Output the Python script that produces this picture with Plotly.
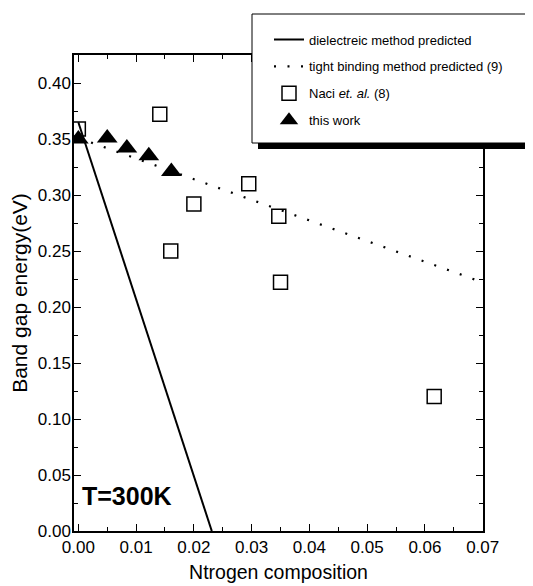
import plotly.graph_objects as go

# ---- data ----
diel_x = [0.0, 0.0231]
diel_y = [0.365, 0.0]

tb_x = [0.0, 0.07]
tb_y = [0.351, 0.222]

naci_x = [0.0, 0.0141, 0.016, 0.020, 0.0295, 0.0347, 0.035, 0.0616]
naci_y = [0.359, 0.372, 0.250, 0.292, 0.310, 0.281, 0.222, 0.120]

work_x = [0.0, 0.005, 0.0084, 0.0122, 0.0161]
work_y = [0.350, 0.351, 0.342, 0.335, 0.321]

x_ticks = [0.00, 0.01, 0.02, 0.03, 0.04, 0.05, 0.06, 0.07]
y_ticks = [0.00, 0.05, 0.10, 0.15, 0.20, 0.25, 0.30, 0.35, 0.40]

FONT = "Liberation Sans, Arial, sans-serif"

W, H = 533, 586
# page body adds an 8px offset, so margins are shifted to compensate
ML, MR, MT, MB = 66, 58, 47, 63
PW, PH = W - ML - MR, H - MT - MB
L0, B0 = 74, 531  # on-screen position of plot-area left / bottom


def px(p):
    return (p - L0) / PW


def py(p):
    return (B0 - p) / PH


fig = go.Figure()

fig.add_trace(go.Scatter(
    x=diel_x, y=diel_y, mode="lines", name="dielectreic method predicted",
    line=dict(color="black", width=2), legendgroup="a"))
fig.add_trace(go.Scatter(
    x=tb_x, y=tb_y, mode="lines", name="tight binding method predicted (9)",
    line=dict(color="black", width=2.2, dash="2px,11.5px"), legendgroup="b"))
fig.add_trace(go.Scatter(
    x=naci_x, y=naci_y, mode="markers", name="Naci <i>et. al.</i> (8)",
    marker=dict(symbol="square-open", size=14, color="black",
                line=dict(color="black", width=1.5)), legendgroup="c"))
fig.add_trace(go.Scatter(
    x=work_x, y=work_y, mode="markers", name="this work",
    marker=dict(symbol="triangle-up", size=18, color="black"), legendgroup="d"))

axis_common = dict(
    showgrid=False, zeroline=False, showline=True, linecolor="black",
    linewidth=1.5, mirror="ticks", ticks="inside", ticklen=7, tickwidth=1.2,
    tickcolor="black", tickformat=".2f", automargin=False,
    tickfont=dict(family=FONT, size=17, color="black"),
)

fig.update_xaxes(
    **axis_common, range=[-0.00075, 0.07005], tickmode="array", tickvals=x_ticks,
    minor=dict(dtick=0.005, tick0=0, ticks="inside", ticklen=4, tickwidth=1,
               tickcolor="black"),
    title=dict(text="Ntrogen composition", standoff=9,
               font=dict(family=FONT, size=19.5, color="black")),
)
fig.update_yaxes(
    **axis_common, range=[0, 0.425], tickmode="array", tickvals=y_ticks,
    ticklabelstandoff=-2,
    minor=dict(dtick=0.025, tick0=0, ticks="inside", ticklen=4, tickwidth=1,
               tickcolor="black"),
    title=dict(text="Band gap energy(eV)", standoff=15,
               font=dict(family=FONT, size=21, color="black")),
)

shapes = [
    # legend shadow
    dict(type="rect", xref="paper", yref="paper", layer="above",
         x0=px(258), x1=px(531), y0=py(149), y1=py(141),
         fillcolor="black", line=dict(width=0)),
    dict(type="rect", xref="paper", yref="paper", layer="above",
         x0=px(528), x1=px(531), y0=py(149), y1=py(20),
         fillcolor="black", line=dict(width=0)),
    # legend box
    dict(type="rect", xref="paper", yref="paper", layer="above",
         x0=px(252), x1=px(529), y0=py(143), y1=py(14),
         fillcolor="white", line=dict(color="black", width=1)),
]

fig.update_layout(
    width=W, height=H,
    margin=dict(l=ML, r=MR, t=MT, b=MB),
    paper_bgcolor="white", plot_bgcolor="white",
    font=dict(family=FONT, color="black"),
    shapes=shapes,
    showlegend=True,
    legend=dict(
        x=px(269), y=py(24.5), xanchor="left", yanchor="top",
        bgcolor="rgba(0,0,0,0)", borderwidth=0,
        font=dict(family=FONT, size=13, color="black"),
        tracegroupgap=7, itemwidth=30,
    ),
    annotations=[dict(
        x=0.0085, y=0.031, xref="x", yref="y", text="<b>T=300K</b>",
        showarrow=False, font=dict(family=FONT, size=25, color="black"))],
)

fig.write_html("out.html")
